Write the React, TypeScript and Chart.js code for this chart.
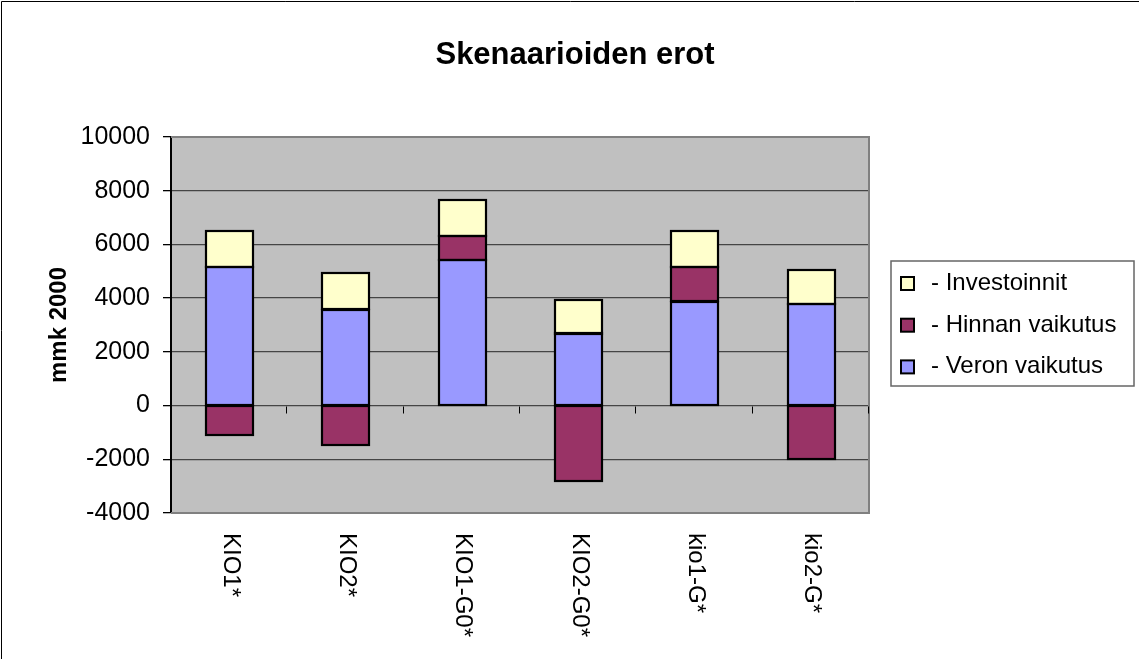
import React, { useEffect, useRef } from "react";
import { Chart, registerables } from "chart.js";

Chart.register(...registerables);

const categories = ["KIO1*", "KIO2*", "KIO1-G0*", "KIO2-G0*", "kio1-G*", "kio2-G*"];
const veronVaikutus = [5150, 3570, 5430, 2690, 3870, 3800];
const hinnanVaikutus = [-1120, -1490, 890, -2810, 1280, -2000];
const investoinnit = [1340, 1350, 1340, 1250, 1340, 1250];
const seriesNames = ["- Veron vaikutus", "- Hinnan vaikutus", "- Investoinnit"];
const seriesColors = ["#9999FF", "#993366", "#FFFFCC"];
const titleText = "Skenaarioiden erot";
const yTitleText = "mmk 2000";
const yMin = -4000;
const yMax = 10000;
const yStep = 2000;

const FONT = '"Liberation Sans", Arial, Helvetica, sans-serif';

const decorPlugin = {
  id: "decor",
  beforeDraw(chart: any) {
    const { ctx, chartArea } = chart;
    ctx.save();
    ctx.fillStyle = "#FFFFFF";
    ctx.fillRect(0, 0, chart.width, chart.height);
    ctx.fillStyle = "#C0C0C0";
    ctx.fillRect(chartArea.left, chartArea.top, chartArea.right - chartArea.left, chartArea.bottom - chartArea.top);
    ctx.strokeStyle = "#000000";
    ctx.lineWidth = 1;
    ctx.beginPath();
    ctx.moveTo(1.5, chart.height);
    ctx.lineTo(1.5, 1.5);
    ctx.lineTo(chart.width, 1.5);
    ctx.stroke();
    ctx.restore();
  },
  afterDatasetsDraw(chart: any) {
    const { ctx } = chart;
    ctx.save();
    ctx.strokeStyle = "#000000";
    ctx.lineWidth = 2.2;
    chart.data.datasets.forEach((_: any, di: number) => {
      const meta = chart.getDatasetMeta(di);
      meta.data.forEach((el: any) => {
        const { x, y, base, width } = el.getProps(["x", "y", "base", "width"], true);
        const top = Math.min(y, base);
        const h = Math.abs(base - y);
        if (h < 0.5) return;
        ctx.strokeRect(Math.round(x - width / 2), Math.round(top), Math.round(width), Math.round(h));
      });
    });
    ctx.restore();
  },
  afterDraw(chart: any) {
    const { ctx, chartArea, scales } = chart;
    const x = scales.x;
    const y = scales.y;
    ctx.save();
    ctx.strokeStyle = "#808080";
    ctx.lineWidth = 2;
    ctx.beginPath();
    ctx.moveTo(chartArea.left, chartArea.top);
    ctx.lineTo(chartArea.right, chartArea.top);
    ctx.lineTo(chartArea.right, chartArea.bottom);
    ctx.lineTo(chartArea.left, chartArea.bottom);
    ctx.stroke();

    const y0 = Math.round(y.getPixelForValue(0)) + 0.5;
    const n = categories.length;
    const w = (chartArea.right - chartArea.left) / n;
    ctx.strokeStyle = "#000000";
    ctx.lineWidth = 1;
    ctx.beginPath();
    for (let k = 1; k <= n; k++) {
      const px = Math.round(chartArea.left + k * w) - 0.5;
      ctx.moveTo(px, y0);
      ctx.lineTo(px, y0 + 7);
    }
    ctx.stroke();

    ctx.fillStyle = "#000000";
    ctx.font = `24px ${FONT}`;
    ctx.textAlign = "left";
    ctx.textBaseline = "middle";
    categories.forEach((c, i) => {
      const px = x.getPixelForValue(i);
      ctx.save();
      ctx.translate(px + 1, chartArea.bottom + 20);
      ctx.rotate(Math.PI / 2);
      ctx.fillText(c, 0, 0);
      ctx.restore();
    });

    ctx.font = `bold 31px ${FONT}`;
    ctx.textAlign = "center";
    ctx.textBaseline = "alphabetic";
    ctx.fillText(titleText, 575, 64);

    ctx.save();
    ctx.translate(59, (chartArea.top + chartArea.bottom) / 2);
    ctx.rotate(-Math.PI / 2);
    ctx.font = `bold 24px ${FONT}`;
    ctx.textAlign = "center";
    ctx.textBaseline = "middle";
    ctx.fillText(yTitleText, 0, 0);
    ctx.restore();

    const lx = 891, ly = 261, lw = 243, lh = 125;
    ctx.strokeStyle = "#666666";
    ctx.lineWidth = 1.5;
    ctx.strokeRect(lx, ly, lw, lh);
    const datasets = chart.data.datasets;
    const order = datasets.map((_: any, i: number) => i).reverse();
    ctx.font = `24px ${FONT}`;
    ctx.textAlign = "left";
    ctx.textBaseline = "alphabetic";
    order.forEach((di: number, row: number) => {
      const base = 290 + row * 41.7;
      const ds = datasets[di];
      ctx.fillStyle = ds.backgroundColor;
      ctx.fillRect(901, base - 13, 13, 13);
      ctx.strokeStyle = "#000000";
      ctx.lineWidth = 2;
      ctx.strokeRect(901, base - 13, 13, 13);
      ctx.fillStyle = "#000000";
      ctx.fillText(ds.label, 931, base);
    });
    ctx.restore();
  },
};

export default function App() {
  const ref = useRef<HTMLCanvasElement | null>(null);
  useEffect(() => {
    document.body.style.margin = "0";
    const canvas = ref.current;
    if (!canvas) return;
    const chart = new Chart(canvas, {
      type: "bar",
      data: {
        labels: categories,
        datasets: seriesNames.map((name, i) => ({
          label: name,
          data: [veronVaikutus, hinnanVaikutus, investoinnit][i],
          backgroundColor: seriesColors[i],
          borderWidth: 0,
        })),
      },
      options: {
        animation: false,
        responsive: false,
        maintainAspectRatio: false,
        layout: { padding: { top: 137, right: 270, left: 0, bottom: 0 } },
        plugins: { legend: { display: false }, title: { display: false }, tooltip: { enabled: false } },
        datasets: { bar: { barPercentage: 0.4, categoryPercentage: 1 } },
        scales: {
          x: {
            stacked: true,
            grid: { display: false },
            border: { display: false },
            ticks: { display: false },
            afterFit: (s: any) => { s.height = 146; },
          },
          y: {
            stacked: true,
            min: yMin,
            max: yMax,
            ticks: {
              stepSize: yStep,
              color: "#000",
              font: { family: FONT, size: 25 },
              padding: 13,
              callback: (v: any) => String(v),
            },
            grid: {
              color: (c: any) => (c.tick && (c.tick.value === yMin || c.tick.value === yMax) ? "rgba(0,0,0,0)" : "#454545"),
              lineWidth: 1.3,
              tickLength: 8,
              tickColor: "#000",
              drawTicks: true,
            },
            border: { display: true, color: "#000", width: 2 },
            afterFit: (s: any) => { s.width = 171; },
          },
        },
      } as any,
      plugins: [decorPlugin],
    });
    return () => chart.destroy();
  }, []);
  return <canvas ref={ref} width={1139} height={659} style={{ display: "block" }} />;
}
